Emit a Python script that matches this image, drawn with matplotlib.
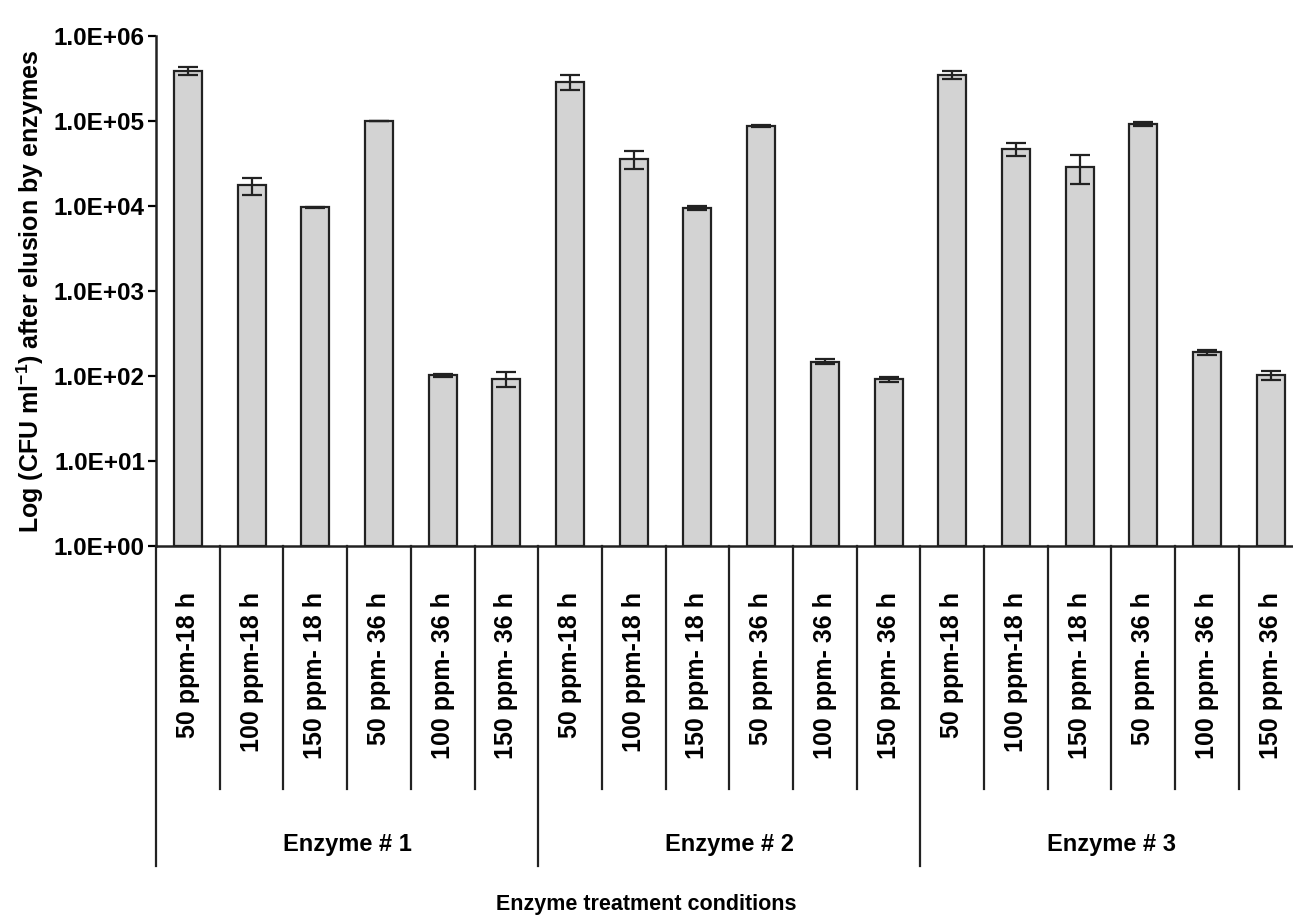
import numpy as np
import matplotlib
matplotlib.use("Agg")
import matplotlib.pyplot as plt
from matplotlib.ticker import FixedLocator, FuncFormatter

plt.rcParams['font.family'] = ['Liberation Sans', 'DejaVu Sans']
plt.rcParams['font.weight'] = 'bold'
plt.rcParams['mathtext.fontset'] = 'custom'
plt.rcParams['mathtext.rm'] = 'Liberation Sans:bold'
plt.rcParams['mathtext.bf'] = 'Liberation Sans:bold'

# Treatment conditions within each enzyme
conditions = ['50 ppm-18 h', '100 ppm-18 h', '150 ppm- 18 h',
              '50 ppm- 36 h', '100 ppm- 36 h', '150 ppm- 36 h']
enzymes = ['Enzyme # 1', 'Enzyme # 2', 'Enzyme # 3']

# CFU/ml after elution (mean and standard deviation)
enzyme1_mean = [3.9e5, 1.75e4, 9.7e3, 1.0e5, 102, 93]
enzyme1_sd = [4.0e4, 4.0e3, 150, 0, 5, 18]
enzyme2_mean = [2.9e5, 3.6e4, 9.6e3, 8.7e4, 148, 92]
enzyme2_sd = [5.5e4, 9.0e3, 500, 2.0e3, 10, 6]
enzyme3_mean = [3.5e5, 4.7e4, 2.9e4, 9.2e4, 190, 102]
enzyme3_sd = [3.5e4, 8.5e3, 1.1e4, 5.0e3, 15, 13]

means = enzyme1_mean + enzyme2_mean + enzyme3_mean
sds = enzyme1_sd + enzyme2_sd + enzyme3_sd
x = np.arange(len(means))

fig = plt.figure(figsize=(12.93, 9.24), dpi=100)
ax = fig.add_axes([0.1207, 0.409, 0.8793, 0.552])

ax.bar(x, np.array(means) - 1, bottom=1, width=0.44, color='#d3d3d3',
       edgecolor='#222222', linewidth=1.6, zorder=2)
ax.errorbar(x, means, yerr=sds, fmt='none', ecolor='#222222',
            elinewidth=1.6, capsize=7.5, capthick=1.6, zorder=3)

ax.set_yscale('log')
ax.set_ylim(1, 1e6)
ax.set_xlim(-0.5, 17.35)
ax.yaxis.set_major_locator(FixedLocator([10.0 ** k for k in range(7)]))
ax.yaxis.set_minor_locator(FixedLocator([]))
ax.yaxis.set_major_formatter(FuncFormatter(lambda v, p: '1.0E+%02d' % round(np.log10(v))))
ax.tick_params(axis='y', direction='out', length=6, width=1.6, labelsize=17.5, pad=2)
ax.set_xticks([])

for side in ['top', 'right']:
    ax.spines[side].set_visible(False)
for side in ['left', 'bottom']:
    ax.spines[side].set_linewidth(1.8)
    ax.spines[side].set_color('#222222')

ax.set_ylabel('Log (CFU ml$^{-1}$) after elusion by enzymes',
              fontsize=18, fontweight='bold', labelpad=6)

# Two-level category axis below the plot
trans = ax.get_xaxis_transform()
for i in range(len(means) + 1):
    y_end = -0.627 if i % len(conditions) == 0 else -0.476
    ax.plot([i - 0.5, i - 0.5], [0, y_end], transform=trans, color='#222222',
            linewidth=1.6, clip_on=False)
for i in x:
    ax.text(i, -0.09, conditions[i % len(conditions)], transform=trans,
            rotation=90, ha='center', va='top', fontsize=18, fontweight='bold')
for g, name in enumerate(enzymes):
    centre = g * len(conditions) + (len(conditions) - 1) / 2
    ax.text(centre, -0.586, name, transform=trans, ha='center', va='center',
            fontsize=17, fontweight='bold')

fig.text(0.5, 0.021, 'Enzyme treatment conditions', ha='center', va='center',
         fontsize=15.5, fontweight='bold')

fig.savefig('out.png', dpi=100)
